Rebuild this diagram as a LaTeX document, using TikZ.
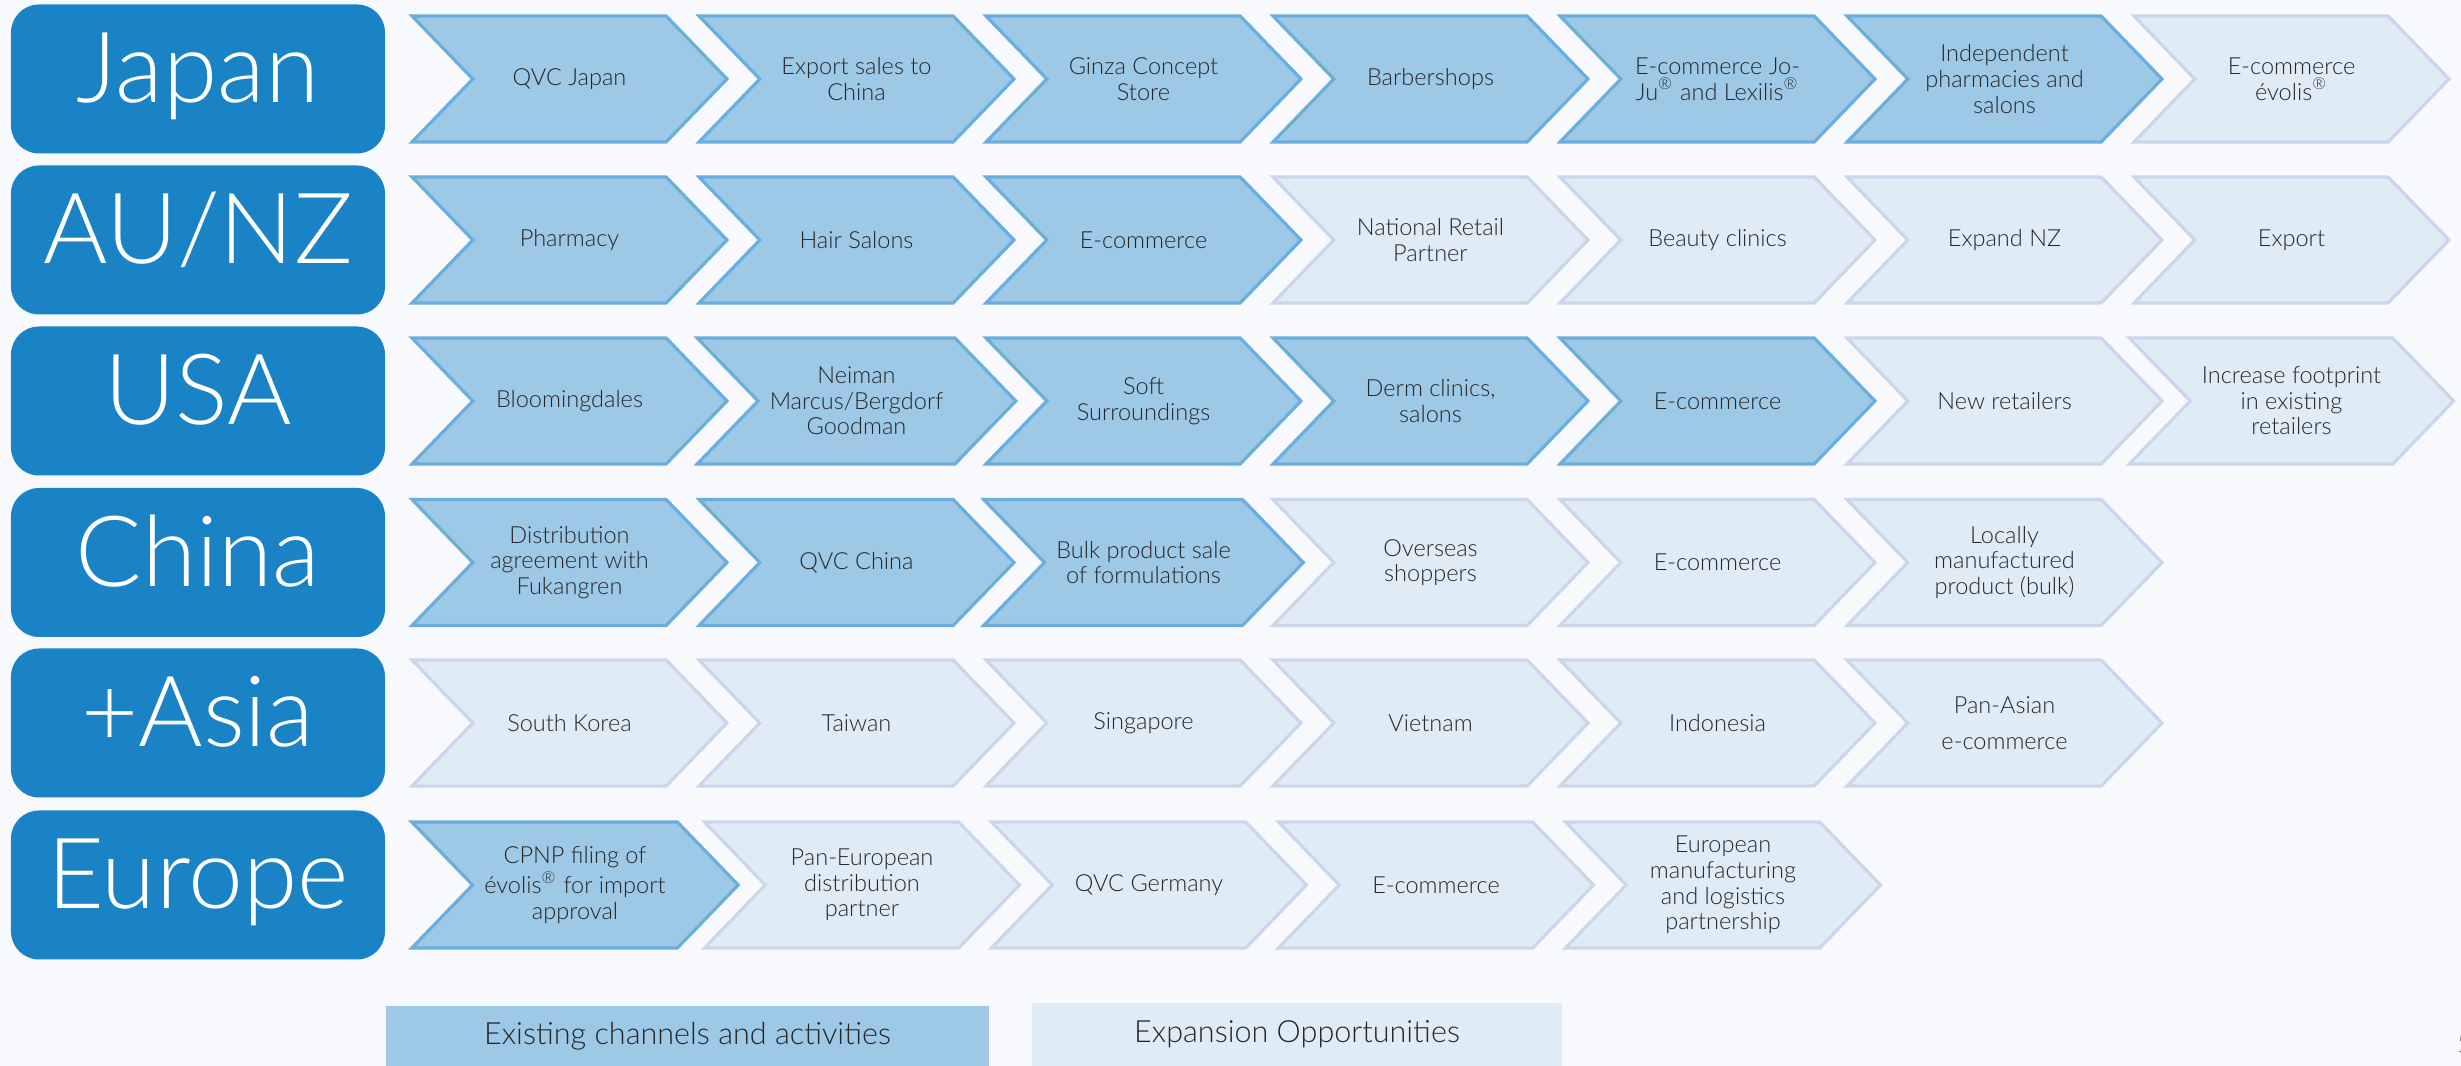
\documentclass[tikz,border=0pt]{standalone}
\usepackage{fontspec}
\setmainfont{Lato}[UprightFont=* Light, BoldFont=* Regular]
\usepackage{tikz}
\usetikzlibrary{shapes.symbols}

\definecolor{bgcol}{HTML}{F7F9FC}
\definecolor{countryblue}{HTML}{1A83C6}
\definecolor{existfill}{HTML}{9DC8E6}
\definecolor{existline}{HTML}{6CAEDB}
\definecolor{expfill}{HTML}{DFEBF5}
\definecolor{expline}{HTML}{CCD6EB}
\definecolor{textgrey}{HTML}{262626}

\newcommand{\countryfont}{\fontsize{28}{30}\selectfont}
\newcommand{\chevfont}{\fontsize{6.7}{7.3}\selectfont}
\newcommand{\legfont}{\fontsize{8.7}{10}\selectfont}
\newcommand{\reg}{\textsuperscript{®}}

\tikzstyle{country} = [rectangle, rounded corners=0.28cm, minimum width=3.74cm, minimum height=1.49cm, text centered, fill=countryblue, text=white, font=\countryfont, text height=0.7cm, text depth=0.22cm]
\tikzstyle{existing} = [signal, signal from=west, signal to=east, signal pointer angle=92, minimum width=3.15cm, minimum height=1.26cm, align=center, draw=existline, fill=existfill, line width=0.9pt, text=textgrey, font=\chevfont]
\tikzstyle{expansion} = [signal, signal from=west, signal to=east, signal pointer angle=92, minimum width=3.15cm, minimum height=1.26cm, align=center, draw=expline, fill=expfill, line width=0.9pt, text=textgrey, font=\chevfont]
\tikzstyle{legend} = [rectangle, minimum height=0.6cm, text centered, text=textgrey, font=\legfont]

\begin{document}
\begin{tikzpicture}[node distance=2.87cm]

\useasboundingbox (0,0) rectangle (24.61,-10.66);
\fill [bgcol] (0,0) rectangle (24.61,-10.66);

% countries
\node (japan) [country] at (1.98,-0.79) {Japan};
\node (aunz) [country] at (1.98,-2.40) {AU/NZ};
\node (usa) [country] at (1.98,-4.01) {USA};
\node (china) [country] at (1.98,-5.625) {China};
\node (asia) [country] at (1.98,-7.23) {+Asia};
\node (europe) [country] at (1.98,-8.85) {Europe};

% Japan
\node (jp1) [existing, right of=japan, xshift=0.845cm] {QVC Japan};
\node (jp2) [existing, right of=jp1] {Export sales to\\China};
\node (jp3) [existing, right of=jp2] {Ginza Concept\\Store};
\node (jp4) [existing, right of=jp3] {Barbershops};
\node (jp5) [existing, right of=jp4] {E-commerce Jo-\\Ju\reg{} and Lexilis\reg};
\node (jp6) [existing, right of=jp5] {Independent\\pharmacies and\\salons};
\node (jp7) [expansion, right of=jp6] {E-commerce\\évolis\reg};

% AU/NZ
\node (au1) [existing, right of=aunz, xshift=0.845cm] {Pharmacy};
\node (au2) [existing, right of=au1] {Hair Salons};
\node (au3) [existing, right of=au2] {E-commerce};
\node (au4) [expansion, right of=au3] {National Retail\\Partner};
\node (au5) [expansion, right of=au4] {Beauty clinics};
\node (au6) [expansion, right of=au5] {Expand NZ};
\node (au7) [expansion, right of=au6] {Export};

% USA
\node (us1) [existing, right of=usa, xshift=0.845cm] {Bloomingdales};
\node (us2) [existing, right of=us1] {Neiman\\Marcus/Bergdorf\\Goodman};
\node (us3) [existing, right of=us2] {Soft\\Surroundings};
\node (us4) [existing, right of=us3] {Derm clinics,\\salons};
\node (us5) [existing, right of=us4] {E-commerce};
\node (us6) [expansion, right of=us5] {New retailers};
\node (us7) [expansion, right of=us6] {Increase footprint\\in existing\\retailers};

% China
\node (cn1) [existing, right of=china, xshift=0.845cm] {Distribution\\agreement with\\Fukangren};
\node (cn2) [existing, right of=cn1] {QVC China};
\node (cn3) [existing, right of=cn2] {Bulk product sale\\of formulations};
\node (cn4) [expansion, right of=cn3] {Overseas\\shoppers};
\node (cn5) [expansion, right of=cn4] {E-commerce};
\node (cn6) [expansion, right of=cn5] {Locally\\manufactured\\product (bulk)};

% +Asia
\node (as1) [expansion, right of=asia, xshift=0.845cm] {South Korea};
\node (as2) [expansion, right of=as1] {Taiwan};
\node (as3) [expansion, right of=as2] {Singapore};
\node (as4) [expansion, right of=as3] {Vietnam};
\node (as5) [expansion, right of=as4] {Indonesia};
\node (as6) [expansion, right of=as5] {Pan-Asian\\[0.1cm]e-commerce};

% Europe
\node (eu1) [existing, right of=europe, xshift=0.9cm] {CPNP filing of\\évolis\reg{} for import\\approval};
\node (eu2) [expansion, right of=eu1] {Pan-European\\distribution\\partner};
\node (eu3) [expansion, right of=eu2] {QVC Germany};
\node (eu4) [expansion, right of=eu3] {E-commerce};
\node (eu5) [expansion, right of=eu4] {European\\manufacturing\\and logistics\\partnership};

% legend
\node (legexist) [legend, fill=existfill, minimum width=6.03cm] at (6.875,-10.36) {Existing channels and activities};
\node (legexp) [legend, fill=expfill, minimum width=5.3cm, minimum height=0.63cm] at (12.97,-10.345) {Expansion Opportunities};
\node (pagenum) [anchor=base west, text=gray, font=\legfont, inner sep=0pt] at (24.56,-10.54) {5};

\end{tikzpicture}
\end{document}
